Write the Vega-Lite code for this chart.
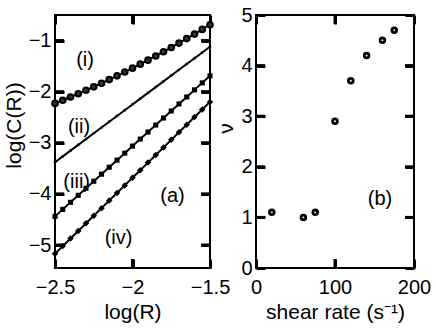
{
  "$schema": "https://vega.github.io/schema/vega-lite/v6.json",
  "padding": {"left": 2, "top": 4, "right": 5, "bottom": 5},
  "spacing": 46,
  "bounds": "flush",
  "config": {
    "font": "Liberation Sans",
    "view": {"stroke": "black", "strokeWidth": 2},
    "axis": {
      "domain": false, "grid": false,
      "labelFontSize": 20, "labelColor": "black", "labelFont": "Liberation Sans",
      "titleFont": "Liberation Sans", "titleFontSize": 21, "titleFontWeight": "normal", "titleColor": "black",
      "labelFlush": false, "labelOverlap": false
    },
    "text": {"font": "Liberation Sans", "fontSize": 20, "color": "black"}
  },
  "hconcat": [
    {
      "width": 155, "height": 253,
      "data": {"values": [
        {"x": -2.5, "c1": -2.230, "c2": -3.380, "c3": -4.440, "c4": -5.170},
        {"x": -2.45, "c1": -2.168, "c2": -3.267, "c3": -4.303, "c4": -5.022},
        {"x": -2.4, "c1": -2.105, "c2": -3.154, "c3": -4.165, "c4": -4.873},
        {"x": -2.35, "c1": -2.040, "c2": -3.041, "c3": -4.028, "c4": -4.725},
        {"x": -2.3, "c1": -1.973, "c2": -2.928, "c3": -3.890, "c4": -4.576},
        {"x": -2.25, "c1": -1.905, "c2": -2.815, "c3": -3.753, "c4": -4.428},
        {"x": -2.2, "c1": -1.835, "c2": -2.702, "c3": -3.615, "c4": -4.279},
        {"x": -2.15, "c1": -1.764, "c2": -2.589, "c3": -3.478, "c4": -4.131},
        {"x": -2.1, "c1": -1.691, "c2": -2.476, "c3": -3.340, "c4": -3.982},
        {"x": -2.05, "c1": -1.616, "c2": -2.363, "c3": -3.203, "c4": -3.834},
        {"x": -2.0, "c1": -1.540, "c2": -2.250, "c3": -3.065, "c4": -3.685},
        {"x": -1.95, "c1": -1.462, "c2": -2.137, "c3": -2.928, "c4": -3.537},
        {"x": -1.9, "c1": -1.383, "c2": -2.024, "c3": -2.790, "c4": -3.388},
        {"x": -1.85, "c1": -1.302, "c2": -1.911, "c3": -2.653, "c4": -3.240},
        {"x": -1.8, "c1": -1.219, "c2": -1.798, "c3": -2.515, "c4": -3.091},
        {"x": -1.75, "c1": -1.135, "c2": -1.685, "c3": -2.378, "c4": -2.943},
        {"x": -1.7, "c1": -1.049, "c2": -1.572, "c3": -2.240, "c4": -2.794},
        {"x": -1.65, "c1": -0.962, "c2": -1.459, "c3": -2.103, "c4": -2.646},
        {"x": -1.6, "c1": -0.873, "c2": -1.346, "c3": -1.965, "c4": -2.497},
        {"x": -1.55, "c1": -0.782, "c2": -1.233, "c3": -1.828, "c4": -2.349},
        {"x": -1.5, "c1": -0.690, "c2": -1.120, "c3": -1.690, "c4": -2.200}
      ]},
      "resolve": {"axis": {"x": "independent", "y": "independent"}},
      "layer": [
        {
          "mark": {"type": "line", "color": "black", "strokeWidth": 2},
          "encoding": {
            "x": {"field": "x", "type": "quantitative", "scale": {"domain": [-2.5, -1.5], "nice": false, "zero": false},
                  "axis": {"orient": "bottom", "values": [-2.5, -2, -1.5], "format": "~g", "title": "log(R)",
                           "ticks": true, "tickSize": 9, "offset": -9, "tickColor": "black", "tickWidth": 3, "labelPadding": 9}},
            "y": {"field": "c1", "type": "quantitative", "scale": {"domain": [-5.45, -0.5], "nice": false, "zero": false},
                  "axis": {"orient": "left", "values": [-5, -4, -3, -2, -1], "format": "~g", "title": "log(C(R))", "titleY": 110,
                           "ticks": true, "tickSize": 9, "offset": -9, "tickColor": "black", "tickWidth": 3, "labelPadding": 4}}
          }
        },
        {
          "mark": {"type": "line", "color": "black", "strokeWidth": 2},
          "encoding": {
            "x": {"field": "x", "type": "quantitative", "scale": {"domain": [-2.5, -1.5], "nice": false, "zero": false},
                  "axis": {"orient": "top", "values": [-2.5, -2, -1.5], "labels": false, "title": null,
                           "ticks": true, "tickSize": 9, "offset": -9, "tickColor": "black", "tickWidth": 3}},
            "y": {"field": "c2", "type": "quantitative", "scale": {"domain": [-5.45, -0.5], "nice": false, "zero": false},
                  "axis": {"orient": "right", "values": [-5, -4, -3, -2, -1], "labels": false, "title": null,
                           "ticks": true, "tickSize": 9, "offset": -9, "tickColor": "black", "tickWidth": 3}}
          }
        },
        {
          "mark": {"type": "line", "color": "black", "strokeWidth": 2},
          "encoding": {
            "x": {"field": "x", "type": "quantitative", "axis": null},
            "y": {"field": "c3", "type": "quantitative", "axis": null}
          }
        },
        {
          "mark": {"type": "line", "color": "black", "strokeWidth": 2},
          "encoding": {
            "x": {"field": "x", "type": "quantitative", "axis": null},
            "y": {"field": "c4", "type": "quantitative", "axis": null}
          }
        },
        {
          "mark": {"type": "point", "shape": "circle", "filled": true, "fill": "#333", "stroke": "black", "strokeWidth": 2, "size": 32, "opacity": 1},
          "encoding": {
            "x": {"field": "x", "type": "quantitative", "axis": null},
            "y": {"field": "c1", "type": "quantitative", "axis": null}
          }
        },
        {
          "mark": {"type": "point", "shape": "circle", "filled": true, "color": "black", "size": 8, "opacity": 1},
          "encoding": {
            "x": {"field": "x", "type": "quantitative", "axis": null},
            "y": {"field": "c2", "type": "quantitative", "axis": null}
          }
        },
        {
          "mark": {"type": "point", "shape": "square", "filled": true, "color": "black", "size": 26, "opacity": 1},
          "encoding": {
            "x": {"field": "x", "type": "quantitative", "axis": null},
            "y": {"field": "c3", "type": "quantitative", "axis": null}
          }
        },
        {
          "mark": {"type": "point", "shape": "diamond", "filled": true, "color": "black", "size": 42, "opacity": 1},
          "encoding": {
            "x": {"field": "x", "type": "quantitative", "axis": null},
            "y": {"field": "c4", "type": "quantitative", "axis": null}
          }
        },
        {
          "data": {"values": [
            {"tx1": -2.5, "tx2": -2.442, "ty1": -5, "ty2": -5},
            {"tx1": -2.5, "tx2": -2.442, "ty1": -4, "ty2": -4},
            {"tx1": -2.5, "tx2": -2.442, "ty1": -3, "ty2": -3},
            {"tx1": -2.5, "tx2": -2.442, "ty1": -2, "ty2": -2},
            {"tx1": -2.5, "tx2": -2.442, "ty1": -1, "ty2": -1},
            {"tx1": -1.558, "tx2": -1.5, "ty1": -5, "ty2": -5},
            {"tx1": -1.558, "tx2": -1.5, "ty1": -4, "ty2": -4},
            {"tx1": -1.558, "tx2": -1.5, "ty1": -3, "ty2": -3},
            {"tx1": -1.558, "tx2": -1.5, "ty1": -2, "ty2": -2},
            {"tx1": -1.558, "tx2": -1.5, "ty1": -1, "ty2": -1},
            {"tx1": -2.0, "tx2": -2.0, "ty1": -0.5, "ty2": -0.676},
            {"tx1": -2.0, "tx2": -2.0, "ty1": -5.45, "ty2": -5.274}
          ]},
          "mark": {"type": "rule", "color": "black", "strokeWidth": 3},
          "encoding": {
            "x": {"field": "tx1", "type": "quantitative", "axis": null},
            "x2": {"field": "tx2"},
            "y": {"field": "ty1", "type": "quantitative", "axis": null},
            "y2": {"field": "ty2"}
          }
        },
        {
          "data": {"values": [
            {"lx": -2.306, "ly": -1.38, "t": "(i)"},
            {"lx": -2.345, "ly": -2.69, "t": "(ii)"},
            {"lx": -2.36, "ly": -3.77, "t": "(iii)"},
            {"lx": -2.09, "ly": -4.865, "t": "(iv)"},
            {"lx": -1.742, "ly": -4.04, "t": "(a)"}
          ]},
          "mark": {"type": "text", "align": "center", "baseline": "middle"},
          "encoding": {
            "x": {"field": "lx", "type": "quantitative", "axis": null},
            "y": {"field": "ly", "type": "quantitative", "axis": null},
            "text": {"field": "t"}
          }
        }
      ]
    },
    {
      "width": 158, "height": 253,
      "data": {"values": [
        {"r": 20, "v": 1.1},
        {"r": 60, "v": 1.0},
        {"r": 75, "v": 1.1},
        {"r": 100, "v": 2.9},
        {"r": 120, "v": 3.7},
        {"r": 140, "v": 4.2},
        {"r": 160, "v": 4.5},
        {"r": 175, "v": 4.7}
      ]},
      "resolve": {"axis": {"x": "independent", "y": "independent"}},
      "layer": [
        {
          "mark": {"type": "point", "shape": "circle", "filled": false, "stroke": "black", "strokeWidth": 2.8, "size": 22, "opacity": 1},
          "encoding": {
            "x": {"field": "r", "type": "quantitative", "scale": {"domain": [0, 200], "nice": false},
                  "axis": {"orient": "bottom", "values": [0, 100, 200], "title": "shear rate (s⁻¹)",
                           "ticks": true, "tickSize": 9, "offset": -9, "tickColor": "black", "tickWidth": 3, "labelPadding": 9}},
            "y": {"field": "v", "type": "quantitative", "scale": {"domain": [0, 5], "nice": false},
                  "axis": {"orient": "left", "values": [0, 1, 2, 3, 4, 5], "title": "ν", "titleY": 113,
                           "ticks": true, "tickSize": 9, "offset": -9, "tickColor": "black", "tickWidth": 3, "labelPadding": 4}}
          }
        },
        {
          "mark": {"type": "point", "opacity": 0},
          "encoding": {
            "x": {"field": "r", "type": "quantitative", "scale": {"domain": [0, 200], "nice": false},
                  "axis": {"orient": "top", "values": [0, 100, 200], "labels": false, "title": null,
                           "ticks": true, "tickSize": 9, "offset": -9, "tickColor": "black", "tickWidth": 3}},
            "y": {"field": "v", "type": "quantitative", "scale": {"domain": [0, 5], "nice": false},
                  "axis": {"orient": "right", "values": [0, 1, 2, 3, 4, 5], "labels": false, "title": null,
                           "ticks": true, "tickSize": 9, "offset": -9, "tickColor": "black", "tickWidth": 3}}
          }
        },
        {
          "data": {"values": [
            {"tx1": 0, "tx2": 11.4, "ty1": 1, "ty2": 1},
            {"tx1": 0, "tx2": 11.4, "ty1": 2, "ty2": 2},
            {"tx1": 0, "tx2": 11.4, "ty1": 3, "ty2": 3},
            {"tx1": 0, "tx2": 11.4, "ty1": 4, "ty2": 4},
            {"tx1": 188.6, "tx2": 200, "ty1": 1, "ty2": 1},
            {"tx1": 188.6, "tx2": 200, "ty1": 2, "ty2": 2},
            {"tx1": 188.6, "tx2": 200, "ty1": 3, "ty2": 3},
            {"tx1": 188.6, "tx2": 200, "ty1": 4, "ty2": 4},
            {"tx1": 100, "tx2": 100, "ty1": 5, "ty2": 4.822},
            {"tx1": 100, "tx2": 100, "ty1": 0, "ty2": 0.178}
          ]},
          "mark": {"type": "rule", "color": "black", "strokeWidth": 3},
          "encoding": {
            "x": {"field": "tx1", "type": "quantitative", "axis": null},
            "x2": {"field": "tx2"},
            "y": {"field": "ty1", "type": "quantitative", "axis": null},
            "y2": {"field": "ty2"}
          }
        },
        {
          "data": {"values": [{"lx": 157, "ly": 1.36, "t": "(b)"}]},
          "mark": {"type": "text", "align": "center", "baseline": "middle"},
          "encoding": {
            "x": {"field": "lx", "type": "quantitative", "axis": null},
            "y": {"field": "ly", "type": "quantitative", "axis": null},
            "text": {"field": "t"}
          }
        }
      ]
    }
  ]
}
